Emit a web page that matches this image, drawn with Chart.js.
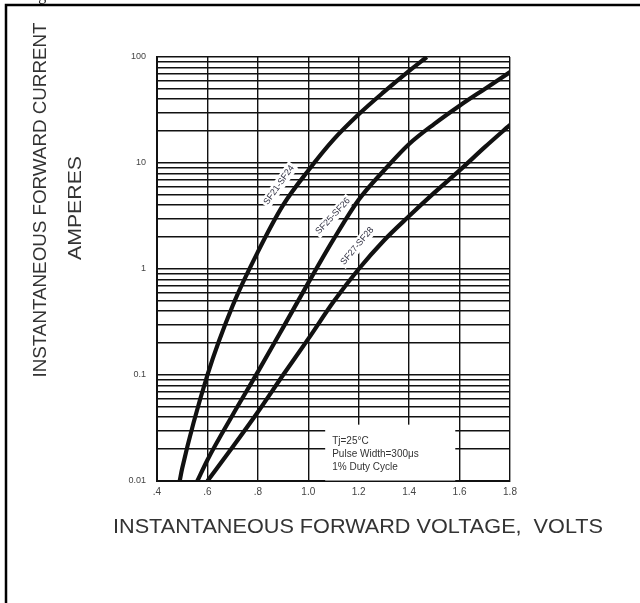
<!DOCTYPE html>
<html>
<head>
<meta charset="utf-8">
<script src="https://cdn.jsdelivr.net/npm/chart.js@4.4.1/dist/chart.umd.min.js"></script>
<style>
  html, body { margin: 0; padding: 0; background: #fff; }
  canvas { display: block; }
</style>
</head>
<body>
<canvas id="chart" width="640" height="603"></canvas>
<script>
// tick labels
const xTickLabels = ['.4', '.6', '.8', '1.0', '1.2', '1.4', '1.6', '1.8'];
const yTickLabels = ['0.01', '0.1', '1', '10', '100'];
const curveNames = ['SF21-SF24', 'SF25-SF26', 'SF27-SF28'];
const noteLines = ['Tj=25\u00B0C', 'Pulse Width=300\u03BCs', '1% Duty Cycle'];

// forward voltage (V) / forward current (A)
const voltsSF21 = [0.49, 0.50, 0.60, 0.70, 0.80, 0.90, 1.00, 1.10, 1.20, 1.30, 1.40, 1.47];
const ampsSF21  = [0.01, 0.0132, 0.1, 0.45, 1.45, 4.0, 8.5, 16.6, 28.8, 46.8, 74, 100];
const voltsSF25 = [0.56, 0.60, 0.70, 0.80, 0.90, 1.00, 1.10, 1.20, 1.30, 1.40, 1.50, 1.60, 1.70, 1.80];
const ampsSF25  = [0.01, 0.0158, 0.042, 0.107, 0.28, 0.74, 1.9, 4.5, 8.5, 15.1, 23.4, 34.7, 50, 72];
const voltsSF27 = [0.60, 0.70, 0.80, 0.90, 1.00, 1.10, 1.20, 1.30, 1.40, 1.50, 1.60, 1.70, 1.80];
const ampsSF27  = [0.01, 0.0209, 0.0447, 0.1, 0.219, 0.49, 1.0, 1.86, 3.16, 5.25, 8.51, 14.1, 22.9];

const pairs = (xs, ys) => xs.map((x, i) => ({ x: x, y: ys[i] }));

// where the curve names sit (data coords) and their slant
const nameSpots = [
  { x: 0.884, y: 6.2, angle: -55 },
  { x: 1.098, y: 3.16, angle: -47 },
  { x: 1.194, y: 1.65, angle: -50 }
];
// white note box corners in data coords
const noteBox = { x0: 1.067, x1: 1.583, y0: 0.0101, y1: 0.034 };

const INK = '#111';
const FONT = '"Liberation Sans", Arial, sans-serif';

function fitText(ctx, text, cx, cy, width, angle, size) {
  ctx.save();
  ctx.font = size + 'px ' + FONT;
  const w = ctx.measureText(text).width;
  ctx.translate(cx, cy);
  ctx.rotate(angle);
  ctx.scale(width / w, 1);
  ctx.textAlign = 'center';
  ctx.textBaseline = 'middle';
  ctx.fillText(text, 0, 0);
  ctx.restore();
}

const decorations = {
  id: 'decorations',
  beforeDatasetsDraw(chart) {
    const ctx = chart.ctx;
    const xs = chart.scales.x, ys = chart.scales.y;

    // note box, blanks the grid under it
    const bx0 = xs.getPixelForValue(noteBox.x0), bx1 = xs.getPixelForValue(noteBox.x1);
    const by0 = ys.getPixelForValue(noteBox.y1), by1 = ys.getPixelForValue(noteBox.y0);
    ctx.save();
    ctx.fillStyle = '#fff';
    ctx.fillRect(bx0, by0, bx1 - bx0, by1 - by0);
    ctx.fillStyle = '#333';
    ctx.font = '10px ' + FONT;
    ctx.textBaseline = 'middle';
    noteLines.forEach((t, i) => ctx.fillText(t, bx0 + 7, by0 + 17 + i * 13));
    ctx.restore();

    // curve names
    nameSpots.forEach((s, i) => {
      const px = xs.getPixelForValue(s.x), py = ys.getPixelForValue(s.y);
      ctx.save();
      ctx.translate(px, py);
      ctx.rotate(s.angle * Math.PI / 180);
      ctx.font = '9px ' + FONT;
      const w = ctx.measureText(curveNames[i]).width;
      ctx.fillStyle = '#fff';
      ctx.fillRect(-w / 2 - 2, -6, w + 4, 12);
      ctx.fillStyle = '#334';
      ctx.textAlign = 'center';
      ctx.textBaseline = 'middle';
      ctx.fillText(curveNames[i], 0, 0);
      ctx.restore();
    });
  },
  afterDraw(chart) {
    const ctx = chart.ctx;
    ctx.save();
    // cut-off caption above the frame
    ctx.fillStyle = '#222';
    ctx.font = '16px "Liberation Serif", serif';
    ctx.textBaseline = 'alphabetic';
    ctx.fillText('Fig', 25, 0);
    // page frame
    ctx.strokeStyle = '#000';
    ctx.lineWidth = 2.5;
    ctx.beginPath();
    ctx.moveTo(640, 5);
    ctx.lineTo(6, 5);
    ctx.lineTo(6, 603);
    ctx.stroke();
    // axis titles
    ctx.fillStyle = '#333';
    fitText(ctx, 'INSTANTANEOUS FORWARD CURRENT', 41, 200, 355, -Math.PI / 2, 19);
    fitText(ctx, 'AMPERES', 76, 208, 104, -Math.PI / 2, 19);
    fitText(ctx, 'INSTANTANEOUS FORWARD VOLTAGE,  VOLTS', 358, 527, 490, 0, 20);
    ctx.restore();
  }
};

const curveStyle = {
  borderColor: INK,
  borderWidth: 4.2,
  pointRadius: 0,
  fill: false,
  cubicInterpolationMode: 'monotone'
};

const chart = new Chart(document.getElementById('chart').getContext('2d'), {
  type: 'line',
  data: {
    datasets: [
      Object.assign({ label: curveNames[0], data: pairs(voltsSF21, ampsSF21) }, curveStyle),
      Object.assign({ label: curveNames[1], data: pairs(voltsSF25, ampsSF25) }, curveStyle),
      Object.assign({ label: curveNames[2], data: pairs(voltsSF27, ampsSF27) }, curveStyle)
    ]
  },
  options: {
    responsive: false,
    animation: false,
    devicePixelRatio: 1,
    layout: { padding: { top: 57, right: 130, left: 0, bottom: 0 } },
    plugins: { legend: { display: false }, tooltip: { enabled: false } },
    scales: {
      x: {
        type: 'linear',
        min: 0.4,
        max: 1.8,
        grid: { color: INK, lineWidth: 1.4, drawTicks: false },
        border: { color: INK, width: 2 },
        ticks: {
          stepSize: 0.2,
          padding: 5,
          color: '#444',
          font: { family: FONT, size: 10 },
          callback: (v, i) => xTickLabels[i]
        },
        afterFit(scale) {
          scale.height = 122;
          scale.paddingLeft = 0;
          scale.paddingRight = 0;
        }
      },
      y: {
        type: 'logarithmic',
        min: 0.01,
        max: 100,
        grid: { color: INK, lineWidth: 1.4, drawTicks: false },
        border: { color: INK, width: 2 },
        afterBuildTicks(scale) {
          const ticks = [];
          for (let e = -2; e <= 2; e++) {
            for (let m = 1; m <= 9; m++) {
              const v = m * Math.pow(10, e);
              if (v <= 100.0001) ticks.push({ value: v });
            }
          }
          scale.ticks = ticks;
        },
        ticks: {
          autoSkip: false,
          padding: 11,
          color: '#444',
          font: { family: FONT, size: 9 },
          callback: (v) => {
            const e = Math.log10(v);
            return Math.abs(e - Math.round(e)) < 1e-6 ? yTickLabels[Math.round(e) + 2] : '';
          }
        },
        afterFit(scale) {
          scale.width = 157;
          scale.paddingTop = 0;
          scale.paddingBottom = 0;
        }
      }
    }
  },
  plugins: [decorations]
});
</script>
</body>
</html>
